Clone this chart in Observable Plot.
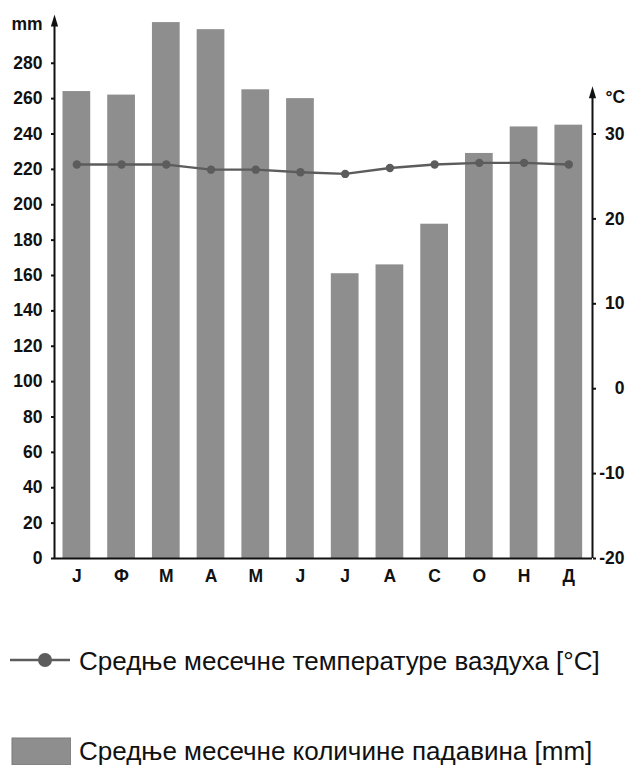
<!DOCTYPE html>
<html>
<head>
<meta charset="utf-8">
<script src="https://cdn.jsdelivr.net/npm/d3@7"></script>
<script src="https://cdn.jsdelivr.net/npm/@observablehq/plot@0.6"></script>
<style>
  html, body { margin: 0; padding: 0; background: #fff; }
  body { width: 627px; height: 765px; position: relative; overflow: hidden; font-family: "Liberation Sans", Arial, sans-serif; }
  #chart { position: absolute; left: 0; top: 0; }
  .legend { position: absolute; left: 0; display: flex; align-items: center; height: 40px; color: #111; font-size: 26px; white-space: nowrap; }
  .legend svg { display: block; margin-right: 8px; }
</style>
</head>
<body>
<div id="chart"></div>
<div class="legend" id="leg1" style="top:641px"></div>
<div class="legend" id="leg2" style="top:731px"></div>
<script>
// Data
const months = ["Ј", "Ф", "М", "А", "М", "Ј", "Ј", "А", "С", "О", "Н", "Д"];
const precipitation = [264, 262, 303, 299, 265, 260, 161, 166, 189, 229, 244, 245]; // mm
const temperature = [26.4, 26.4, 26.4, 25.8, 25.8, 25.5, 25.3, 26.0, 26.4, 26.6, 26.6, 26.4]; // °C
const mmTicks = [0, 20, 40, 60, 80, 100, 120, 140, 160, 180, 200, 220, 240, 260, 280];
const tempTicks = [-20, -10, 0, 10, 20, 30];
const legendTemp = "Средње месечне температуре ваздуха [°C]";
const legendPrecip = "Средње месечне количине падавина [mm]";

// Secondary axis mapping: -20 °C ↔ 0 mm, 30 °C ↔ 240 mm
const TEMP_MIN = -20, MM_PER_DEG = 4.8;
const toMm = t => (t - TEMP_MIN) * MM_PER_DEG;
const toTemp = m => m / MM_PER_DEG + TEMP_MIN;

const X_MIN = -0.5, X_MAX = 11.53, Y_MAX = 307, TEMP_TOP = 35.5;

const data = months.map((m, i) => ({i, month: m, mm: precipitation[i], temp: temperature[i], tempMm: toMm(temperature[i])}));

const barColor = "#8e8e8e";
const lineColor = "#5c5c5c";
const FS = 17.5;

const arrowHead = {
  draw(ctx) {
    ctx.moveTo(0, -1);
    ctx.lineTo(-3.6, 11);
    ctx.lineTo(3.6, 11);
    ctx.closePath();
  }
};

const chart = Plot.plot({
  width: 627,
  height: 600,
  marginLeft: 54,
  marginRight: 35,
  marginTop: 15,
  marginBottom: 42,
  style: {fontFamily: "'Liberation Sans', Arial, sans-serif", fontSize: `${FS}px`, color: "#111", background: "transparent"},
  x: {type: "linear", domain: [X_MIN, X_MAX]},
  y: {domain: [0, Y_MAX]},
  marks: [
    Plot.rectY(data, {x1: d => d.i - 0.31, x2: d => d.i + 0.31, y1: 0, y2: "mm", fill: barColor}),
    Plot.ruleY([0], {stroke: "#111", strokeWidth: 2}),
    Plot.ruleX([X_MIN], {y1: 0, y2: Y_MAX - 6, stroke: "#111", strokeWidth: 2}),
    Plot.ruleX([X_MAX], {y1: 0, y2: toMm(TEMP_TOP) - 6, stroke: "#111", strokeWidth: 2}),
    Plot.dot([{x: X_MIN, y: Y_MAX}, {x: X_MAX, y: toMm(TEMP_TOP)}], {x: "x", y: "y", symbol: arrowHead, fill: "#111", stroke: "none", r: 4}),
    Plot.axisX({ticks: d3.range(12), tickFormat: i => months[i], tickSize: 0, tickPadding: 11, fontSize: FS, fontWeight: "bold", label: null}),
    Plot.axisY({anchor: "left", ticks: mmTicks, tickFormat: d => String(d), tickSize: 3, tickPadding: 9, strokeWidth: 2, fontSize: FS, fontWeight: "bold", label: null}),
    Plot.axisY({anchor: "right", ticks: tempTicks.map(toMm), tickFormat: m => String(Math.round(toTemp(m))), tickSize: 3, tickPadding: 29, textAnchor: "end", strokeWidth: 2, fontSize: FS, fontWeight: "bold", label: null}),
    Plot.text(["mm"], {x: X_MIN, y: Y_MAX, dx: -12, dy: 9, textAnchor: "end", fontSize: FS, fontWeight: "bold", fill: "#111"}),
    Plot.text(["°C"], {x: X_MAX, y: toMm(TEMP_TOP), dx: 13, dy: 10, textAnchor: "start", fontSize: FS, fontWeight: "bold", fill: "#111"}),
    Plot.line(data, {x: "i", y: "tempMm", stroke: lineColor, strokeWidth: 2.4}),
    Plot.dot(data, {x: "i", y: "tempMm", r: 4.2, fill: lineColor, stroke: "none"})
  ]
});
document.getElementById("chart").appendChild(chart);

// Legend
const leg1 = document.getElementById("leg1");
leg1.innerHTML = `<svg width="71" height="40"><line x1="10" x2="70" y1="19" y2="19" stroke="${lineColor}" stroke-width="2.5"/><circle cx="45" cy="19" r="7" fill="${lineColor}"/></svg><span></span>`;
leg1.querySelector("span").textContent = legendTemp;
const leg2 = document.getElementById("leg2");
leg2.innerHTML = `<svg width="71" height="40"><rect x="12" y="7" width="59" height="27" fill="${barColor}" stroke="#7a7a7a" stroke-width="1"/></svg><span></span>`;
leg2.querySelector("span").textContent = legendPrecip;
</script>
</body>
</html>
